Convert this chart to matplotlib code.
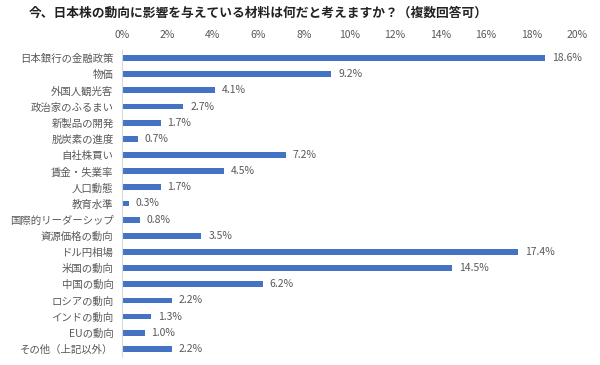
import matplotlib
matplotlib.use("Agg")
import matplotlib.pyplot as plt
import numpy as np

plt.rcParams["font.family"] = ["Noto Sans CJK JP", "DejaVu Sans"]

title = "今、日本株の動向に影響を与えている材料は何だと考えますか？（複数回答可）"
categories = ["日本銀行の金融政策", "物価", "外国人観光客", "政治家のふるまい", "新製品の開発",
              "脱炭素の進度", "自社株買い", "賃金・失業率", "人口動態", "教育水準",
              "国際的リーダーシップ", "資源価格の動向", "ドル円相場", "米国の動向", "中国の動向",
              "ロシアの動向", "インドの動向", "EUの動向", "その他（上記以外）"]
values = [18.6, 9.2, 4.1, 2.7, 1.7, 0.7, 7.2, 4.5, 1.7, 0.3,
          0.8, 3.5, 17.4, 14.5, 6.2, 2.2, 1.3, 1.0, 2.2]
xticks = [0, 2, 4, 6, 8, 10, 12, 14, 16, 18, 20]

text_color = "#595959"

fig = plt.figure(figsize=(6, 3.65), dpi=100)
ax = fig.add_axes([0.203, 0.022, 0.759, 0.841])

y_pos = np.arange(len(categories))
bars = ax.barh(y_pos, values, height=0.36, color="#4472C4")
for bar, v in zip(bars, values):
    ax.text(bar.get_width() + 0.3, bar.get_y() + bar.get_height() / 2, "%.1f%%" % v,
            ha="left", va="center", fontsize=7.5, color=text_color)

ax.set_ylim(len(categories) - 0.5, -0.5)
ax.set_xlim(0, 20)
ax.set_yticks(y_pos)
ax.set_yticklabels(categories, fontsize=7.5, color=text_color)
ax.set_xticks(xticks)
ax.set_xticklabels(["%d%%" % t for t in xticks], fontsize=7.5, color=text_color)
ax.xaxis.tick_top()
ax.tick_params(axis="both", length=0)
ax.tick_params(axis="x", pad=7.5)
ax.tick_params(axis="y", pad=6)
for side in ["top", "right", "bottom"]:
    ax.spines[side].set_visible(False)
ax.spines["left"].set_color("#D9D9D9")

fig.text(0.43, 0.965, title, ha="center", va="center", fontsize=9.2,
         fontweight="bold", color="#222222")

fig.savefig("out.png", dpi=100)
